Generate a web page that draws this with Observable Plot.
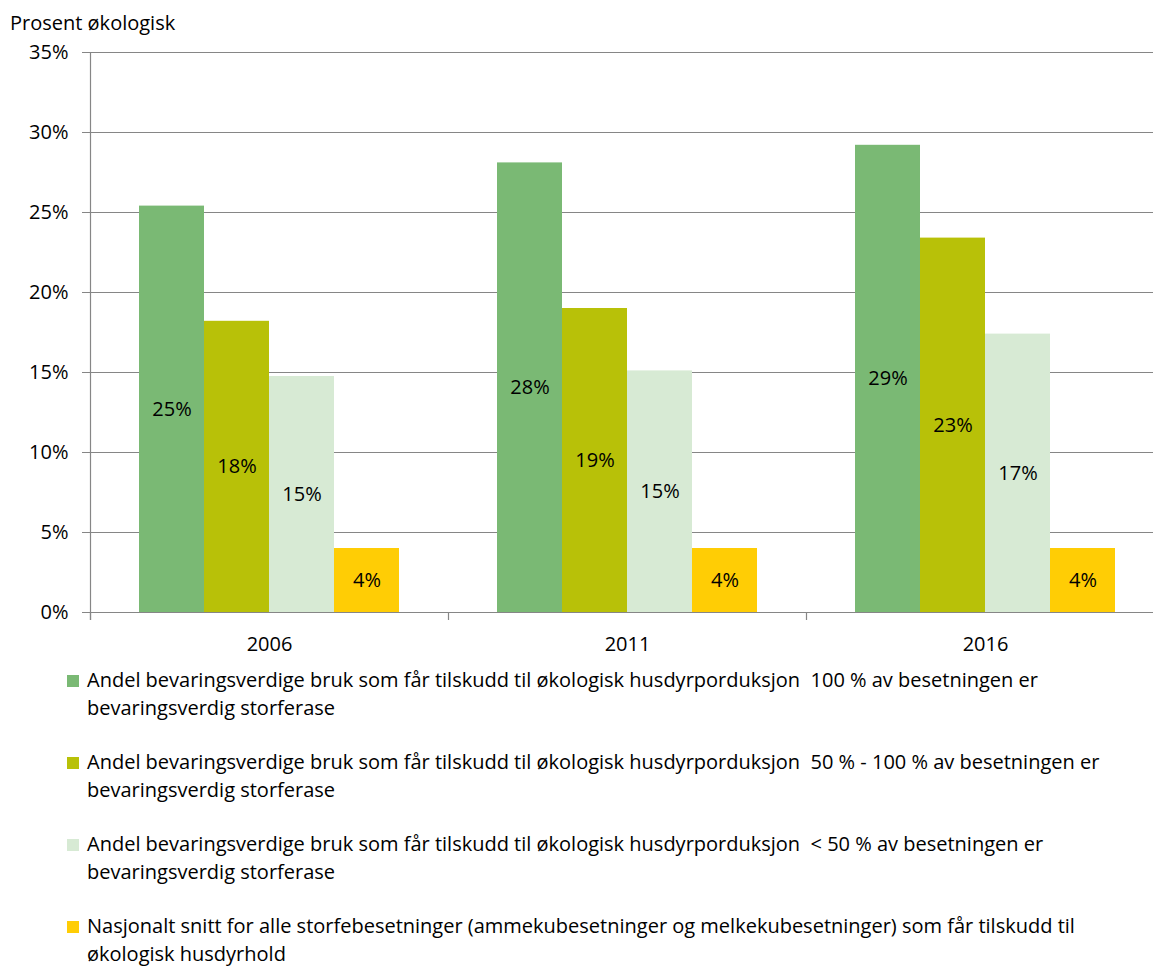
<!DOCTYPE html>
<html><head><meta charset="utf-8">
<script src="https://cdn.jsdelivr.net/npm/d3@7"></script>
<script src="https://cdn.jsdelivr.net/npm/@observablehq/plot@0.6"></script>
<style>
html,body{margin:0;padding:0;overflow:hidden;background:#fff;}
body{font-family:"Open Sans",sans-serif;color:#000;width:1153px;height:974px;position:relative;}
#title{position:absolute;left:10px;top:10px;font-size:20px;line-height:26px;}
#chart{position:absolute;left:0;top:0;}
#chart svg{max-width:none !important;}
#legend{position:absolute;left:67px;top:666px;font-size:20px;}
.item{display:flex;align-items:flex-start;height:82px;}
.sw{width:12px;height:12px;margin-top:9px;margin-right:8px;flex:none}
.lab{white-space:pre-wrap;line-height:28px}
</style></head><body>
<div id="title">Prosent økologisk</div>
<div id="chart"></div>
<div id="legend"></div>
<script>
const years = ["2006", "2011", "2016"];
const seriesKeys = ["full", "half", "under", "national"];
const seriesLabels = [
  "Andel bevaringsverdige bruk som får tilskudd til økologisk husdyrporduksjon  100 % av besetningen er\nbevaringsverdig storferase",
  "Andel bevaringsverdige bruk som får tilskudd til økologisk husdyrporduksjon  50 % - 100 % av besetningen er\nbevaringsverdig storferase",
  "Andel bevaringsverdige bruk som får tilskudd til økologisk husdyrporduksjon  < 50 % av besetningen er\nbevaringsverdig storferase",
  "Nasjonalt snitt for alle storfebesetninger (ammekubesetninger og melkekubesetninger) som får tilskudd til\nøkologisk husdyrhold"
];
const valuesFull = [25.4, 28.1, 29.2];
const valuesHalf = [18.2, 19.0, 23.4];
const valuesUnder = [14.75, 15.1, 17.4];
const valuesNational = [4.0, 4.0, 4.0];
const colors = ["#7AB974", "#B8C108", "#D7EAD4", "#FFCD05"];
const yTicks = [0, 5, 10, 15, 20, 25, 30, 35];

const seriesValues = [valuesFull, valuesHalf, valuesUnder, valuesNational];
const data = [];
years.forEach((yr, i) => seriesKeys.forEach((k, j) => data.push({year: yr, key: k, value: seriesValues[j][i]})));

const axisColor = "#868686";
const chart = Plot.plot({
  width: 1165, height: 662,
  marginLeft: 90, marginRight: 1, marginTop: 52, marginBottom: 50,
  style: {fontFamily: "Open Sans", fontSize: "20px", color: "#000", background: "transparent", overflow: "visible", maxWidth: "none"},
  fx: {domain: years, padding: 0, label: null},
  x: {domain: seriesKeys, paddingInner: 0, paddingOuter: 0.75, axis: null},
  y: {domain: [0, 35]},
  color: {domain: seriesKeys, range: colors},
  marks: [
    Plot.gridY(yTicks, {stroke: axisColor, strokeOpacity: 1, strokeWidth: 1.2}),
    Plot.barY(data, {fx: "year", x: "key", y: "value", fill: "key"}),
    Plot.text(data, {fx: "year", x: "key", y: d => d.value / 2, text: d => Math.round(d.value) + "%", fill: "#000", fontSize: 20}),
    Plot.axisY(yTicks, {tickSize: 8, tickPadding: 14, tickFormat: d => d + "%", stroke: axisColor, fill: "#000", fontSize: 20, label: null}),
    Plot.axisFx({anchor: "bottom", tickSize: 0, tickPadding: 24, fontSize: 20, fill: "#000", label: null})
  ]
});
document.getElementById("chart").appendChild(chart);

// axis lines from scales
const fx = chart.scale("fx"), y = chart.scale("y");
const svg = d3.select(chart);
const bounds = years.map(v => fx.apply(v));
bounds.push(bounds[bounds.length - 1] + fx.bandwidth);
const y0 = y.apply(0), yTop = y.apply(35);
const g = svg.append("g").attr("stroke", axisColor).attr("stroke-width", 1.2);
g.append("line").attr("x1", bounds[0] + 0.5).attr("x2", bounds[0] + 0.5).attr("y1", yTop).attr("y2", y0 + 8);
g.append("line").attr("x1", bounds[0]).attr("x2", bounds[bounds.length - 1]).attr("y1", y0 + 0.5).attr("y2", y0 + 0.5);
bounds.forEach(b => g.append("line").attr("x1", b + 0.5).attr("x2", b + 0.5).attr("y1", y0).attr("y2", y0 + 8));

// legend
const legend = d3.select("#legend");
seriesLabels.forEach((lab, i) => {
  const it = legend.append("div").attr("class", "item");
  it.append("div").attr("class", "sw").style("background", colors[i]);
  it.append("div").attr("class", "lab").text(lab);
});
</script>
</body></html>
